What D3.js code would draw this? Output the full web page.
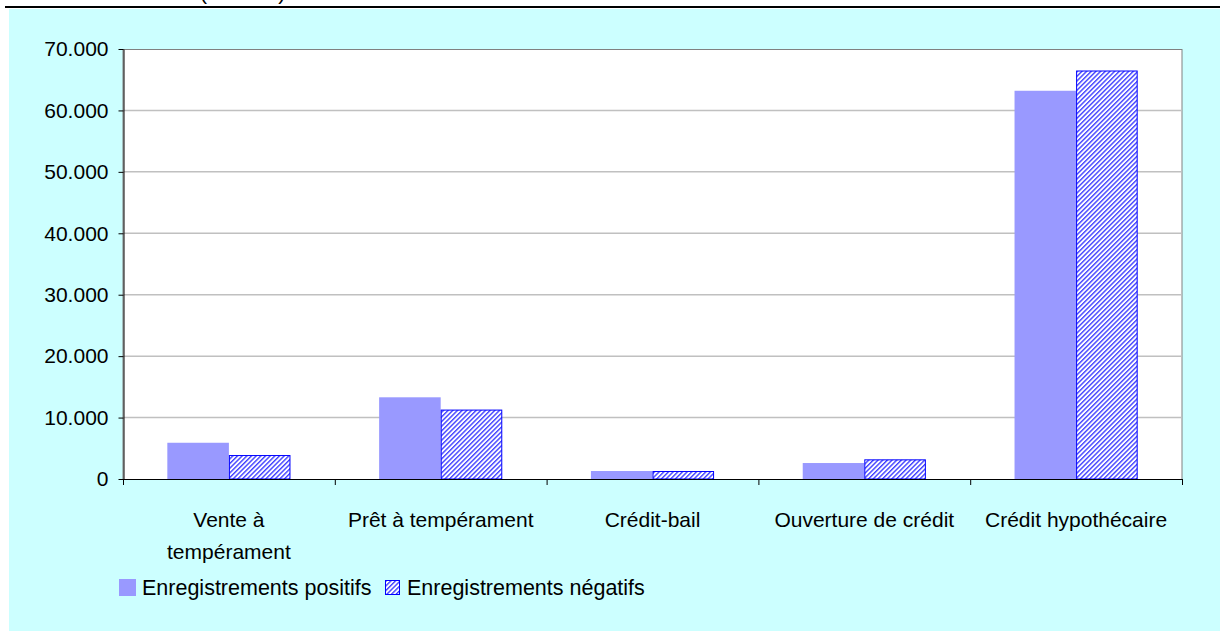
<!DOCTYPE html>
<html>
<head>
<meta charset="utf-8">
<script src="https://cdn.jsdelivr.net/npm/d3@7"></script>
<style>
  body { margin: 0; background: #fff; }
  svg { display: block; font-family: "Liberation Sans", Arial, sans-serif; }
</style>
</head>
<body>
<svg id="chart" width="1220" height="631"></svg>
<script>
// data
var categories = ["Vente à tempérament", "Prêt à tempérament", "Crédit-bail", "Ouverture de crédit", "Crédit hypothécaire"];
var catLabels  = [["Vente à", "tempérament"], ["Prêt à tempérament"], ["Crédit-bail"], ["Ouverture de crédit"], ["Crédit hypothécaire"]];
var series     = ["Enregistrements positifs", "Enregistrements négatifs"];
var positifs   = [5900, 13300, 1300, 2600, 63200];
var negatifs   = [3900, 11300, 1300, 3200, 66500];
var yTicks     = [0, 10000, 20000, 30000, 40000, 50000, 60000, 70000];

(function(){
var svg = d3.select("#chart");
var fs = 21;
var fmt = d3.formatLocale({decimal: ",", thousands: ".", grouping: [3], currency: ["", ""]}).format(",");

//background + rule on top (title above is cut off in the original)
svg.append("text").attr("x", 200).attr("y", 0).attr("font-size", fs).text("(nombre)");
svg.append("rect").attr("x", 9).attr("y", 9).attr("width", 1211).attr("height", 622).attr("fill", "#CCFFFF");
svg.append("line").attr("x1", 5).attr("x2", 1220).attr("y1", 7).attr("y2", 7)
   .attr("stroke", "#000").attr("stroke-width", 2);

//hatch pattern for negative bars
var defs = svg.append("defs");
var pat = defs.append("pattern").attr("id", "hatch").attr("patternUnits", "userSpaceOnUse")
   .attr("width", 3.3).attr("height", 10).attr("patternTransform", "rotate(45)");
pat.append("rect").attr("width", 3.3).attr("height", 10).attr("fill", "#fff");
pat.append("rect").attr("width", 1.4).attr("height", 10).attr("fill", "#4040FF");

var pLeft = 123, pRight = 1182, pTop = 49, pBottom = 479;

var x0 = d3.scaleBand().domain(categories).range([pLeft, pRight]);
var x1 = d3.scaleBand().domain(series).range([0, x0.bandwidth()]).paddingOuter(0.72);
var y  = d3.scaleLinear().domain([0, 70000]).range([pBottom, pTop]);

//plot area
svg.append("rect").attr("x", pLeft).attr("y", pTop + 0.5).attr("width", pRight - pLeft).attr("height", pBottom - pTop)
   .attr("fill", "#fff").attr("stroke", "#808080").attr("stroke-width", 1);

//gridlines
svg.append("g").selectAll("line").data(yTicks.slice(1, -1)).enter().append("line")
   .attr("x1", pLeft).attr("x2", pRight)
   .attr("y1", function(d){ return y(d); }).attr("y2", function(d){ return y(d); })
   .attr("stroke", "#C0C0C0").attr("stroke-width", 1.5);

//bars
var rows = categories.map(function(c, i){ return {cat: c, vals: [positifs[i], negatifs[i]]}; });
var grp = svg.append("g").selectAll("g").data(rows).enter().append("g")
   .attr("transform", function(d){ return "translate(" + x0(d.cat) + ",0)"; });

grp.append("rect")
   .attr("x", x1(series[0])).attr("width", x1.bandwidth())
   .attr("y", function(d){ return y(d.vals[0]); })
   .attr("height", function(d){ return pBottom - y(d.vals[0]); })
   .attr("fill", "#9999FF");

grp.append("rect")
   .attr("x", x1(series[1]) + 0.5).attr("width", x1.bandwidth() - 1)
   .attr("y", function(d){ return y(d.vals[1]) + 0.5; })
   .attr("height", function(d){ return pBottom - y(d.vals[1]) - 0.5; })
   .attr("fill", "url(#hatch)").attr("stroke", "#0000FF").attr("stroke-width", 1);

//y axis
var yAxis = svg.append("g").attr("transform", "translate(" + (pLeft + 0.5) + ",0)")
   .call(d3.axisLeft(y).tickValues(yTicks).tickFormat(fmt).tickSize(5).tickPadding(10).tickSizeOuter(0));
yAxis.select(".domain").attr("stroke", "#000");
yAxis.selectAll("text").attr("font-size", fs).attr("fill", "#000").attr("font-family", "Liberation Sans, Arial, sans-serif");

//x axis line + ticks at category boundaries
svg.append("line").attr("x1", pLeft).attr("x2", pRight).attr("y1", pBottom + 0.5).attr("y2", pBottom + 0.5).attr("stroke", "#000");
var bounds = categories.map(function(c){ return x0(c); }).concat([pRight]);
svg.append("g").selectAll("line").data(bounds).enter().append("line")
   .attr("x1", function(d){ return d + 0.5; }).attr("x2", function(d){ return d + 0.5; })
   .attr("y1", pBottom).attr("y2", pBottom + 6).attr("stroke", "#000");

//category labels
var lab = svg.append("g").selectAll("text").data(catLabels).enter().append("text")
   .attr("text-anchor", "middle").attr("font-size", fs)
   .attr("x", function(d, i){ return x0(categories[i]) + x0.bandwidth() / 2; })
   .attr("y", 527);
lab.selectAll("tspan").data(function(d){ return d; }).enter().append("tspan")
   .attr("x", function(){ return d3.select(this.parentNode).attr("x"); })
   .attr("dy", function(d, i){ return i ? 32 : 0; })
   .text(function(d){ return d; });

//legend
var leg = svg.append("g");
leg.append("rect").attr("x", 119).attr("y", 579).attr("width", 17).attr("height", 17).attr("fill", "#9999FF");
leg.append("text").attr("x", 142).attr("y", 595).attr("font-size", 21.5).text(series[0]);
leg.append("rect").attr("x", 385.5).attr("y", 580.5).attr("width", 14).attr("height", 14)
   .attr("fill", "url(#hatch)").attr("stroke", "#0000FF");
leg.append("text").attr("x", 407).attr("y", 595).attr("font-size", 21.5).text(series[1]);
})();
</script>
</body>
</html>
